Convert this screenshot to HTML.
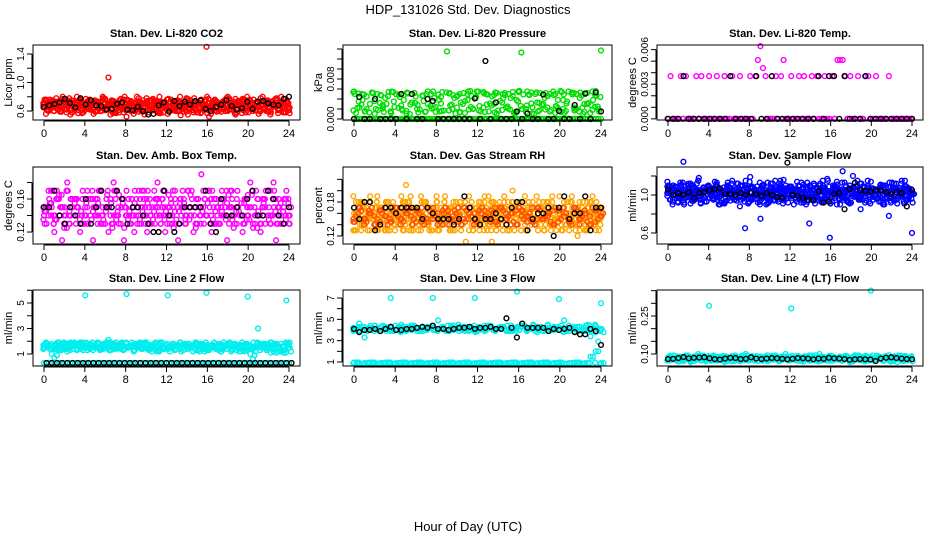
<!DOCTYPE html>
<html><head><meta charset="utf-8"><style>
body{margin:0;background:#fff;}
svg{display:block;font-family:"Liberation Sans",Arial,sans-serif;}
</style></head><body>
<svg id="chart" width="936" height="540" viewBox="0 0 936 540">
<text x="468" y="14" text-anchor="middle" font-size="13">HDP_131026  Std. Dev. Diagnostics</text>
<text x="468" y="531" text-anchor="middle" font-size="13">Hour of Day (UTC)</text>
</svg>
<script>
const co2Color=[0.72,0.62,0.68,0.75,0.60,0.70,0.66,0.77,0.63,0.69,0.73,0.58,0.71,0.65,0.76,0.61,0.68,0.74,0.64,0.70,0.59,0.72,0.67,0.78,
0.62,1.07,0.69,0.74,0.57,0.71,0.65,0.76,0.52,0.68,0.73,0.60,0.80,0.63,0.70,0.55,0.74,0.66,0.61,0.72,0.58,0.69,0.64,0.71,
0.56,0.67,0.73,0.60,0.70,0.54,0.68,0.75,0.62,0.69,0.58,0.72,0.65,0.76,0.61,1.50,0.52,0.67,0.73,0.59,0.70,0.64,0.75,0.61,
0.68,0.72,0.57,0.70,0.66,0.77,0.63,0.69,0.74,0.60,0.71,0.65,0.78,0.62,0.70,0.73,0.58,0.69,0.75,0.64,0.80,0.67,0.72,0.61];
const co2Black=[0.66,0.68,0.70,0.72,0.77,0.71,0.65,0.78,0.69,0.75,0.68,0.67,0.62,0.63,0.70,0.72,0.62,0.61,0.66,0.60,0.55,0.56,0.68,0.72,0.59,0.74,0.67,0.73,0.69,0.74,0.75,0.63,0.60,0.66,0.69,0.75,0.67,0.62,0.64,0.73,0.63,0.73,0.74,0.71,0.69,0.68,0.77,0.80];
const presColor=[5.5,0,2.3,5.0,1.5,0,3.0,5.2,0,1.8,4.8,2.5,0,5.4,1.2,3.5,0,4.9,2.0,0,5.3,1.0,0,3.2,
2.8,0,4.6,1.5,0,5.0,2.2,0,3.8,1.6,0,13.5,5.2,2.0,0,4.7,1.4,3.0,0,5.5,2.4,0,4.4,1.7,
0,5.1,2.9,0,4.5,1.3,0,3.6,5.0,0,2.1,4.2,0,1.5,5.4,13.3,0,2.7,4.8,1.1,0,3.3,5.2,0,
1.9,4.6,0,5.5,2.6,0,1.4,4.9,3.1,0,5.3,1.7,0,4.2,2.3,5.0,0,1.2,3.8,5.6,2.0,13.7];
const presZero=[0,0,0,0,0,0,0,0,0,0,0,0,0,0,0,0,0,0,0,0,0,0,0,0,0,0,0,0,0,0,0,0,0,0,0,0,0,0,0,0,0,0,0,0,0,0,0,0,0,0,0,0,0,0,0,0,0,0,0,0,0,0,0,0,0,0,0,0,0,0,0,0,0,0,0,0,0,0,0,0,0,0,0,0,0,0,0,0,0,0,0,0,0,0,0,0];
const presBlack=[0,4.4,0,0,4.0,0,0,0,0,5.0,0,5.0,0,0,4.0,3.6,0,0,0,0,0,0,0,4.1,0,11.6,0,3.3,0,0,0,1.5,0,1.1,0,0,4.9,0,0,1.6,0,0,2.8,0,5.1,0,5.3,1.5];
const tempColor=[0,3.7,0,0,0,3.7,0,3.7,0,0,0,3.7,0,3.7,0,0,3.7,0,0,3.7,0,0,3.7,0,
0,3.7,0,0,3.7,0,0,0,3.7,0,3.7,5.1,6.3,4.4,3.7,0,0,0,3.7,0,3.7,5.1,0,0,
3.7,0,0,3.7,0,3.7,0,0,3.7,0,3.7,0,0,3.7,0,0,3.7,0,5.1,5.1,5.1,3.7,0,3.7,
0,0,3.7,0,0,3.7,3.7,0,0,3.7,0,0,0,0,3.7,0,0,0,0,0,0,0,0,0];
const tempBlack=[0,0,0,3.7,0,0,0,0,0,0,0,0,3.7,0,0,0,0,3.7,0,0,3.7,0,0,0,0,0,0,0,0,3.7,0,3.7,3.7,0,3.7,0,0,0,3.7,0,0,0,0,0,0,0,0,0];
const boxColor=[0.14,0.13,0.16,0.15,0.12,0.17,0.14,0.11,0.15,0.18,0.13,0.16,0.14,0.15,0.12,0.17,0.14,0.13,0.16,0.11,0.15,0.14,0.17,0.13,
0.15,0.12,0.16,0.18,0.14,0.13,0.15,0.11,0.17,0.14,0.16,0.12,0.15,0.13,0.17,0.14,0.12,0.16,0.15,0.13,0.18,0.14,0.16,0.12,
0.15,0.14,0.17,0.13,0.11,0.16,0.15,0.13,0.17,0.14,0.12,0.16,0.15,0.19,0.13,0.14,0.17,0.12,0.16,0.15,0.13,0.17,0.14,0.11,
0.15,0.16,0.13,0.17,0.14,0.12,0.16,0.15,0.18,0.13,0.14,0.16,0.12,0.15,0.17,0.14,0.13,0.18,0.11,0.16,0.14,0.15,0.17,0.13];
const boxColor2=[0.145,0.155,0.135,0.165,0.125,0.150,0.140,0.160,0.130,0.145,0.155,0.135,0.150,0.140,0.165,0.125,0.145,0.155,0.135,0.150,0.140,0.160,0.130,0.145,
0.155,0.135,0.150,0.140,0.160,0.130,0.145,0.155,0.135,0.150,0.140,0.165,0.125,0.145,0.155,0.135,0.150,0.140,0.160,0.130,0.145,0.155,0.135,0.150];
const boxBlack=[0.15,0.15,0.17,0.14,0.13,0.15,0.14,0.13,0.16,0.13,0.15,0.17,0.15,0.15,0.17,0.16,0.13,0.15,0.15,0.14,0.13,0.12,0.12,0.17,0.14,0.12,0.13,0.15,0.15,0.15,0.15,0.17,0.13,0.12,0.16,0.14,0.14,0.15,0.14,0.16,0.17,0.14,0.14,0.17,0.16,0.14,0.13,0.15];
const rhColor=[0.16,0.15,0.17,0.14,0.18,0.15,0.13,0.17,0.16,0.19,0.14,0.15,0.17,0.13,0.16,0.18,0.15,0.14,0.17,0.16,0.21,0.15,0.13,0.17,
0.16,0.14,0.18,0.15,0.17,0.13,0.16,0.15,0.18,0.14,0.16,0.19,0.15,0.17,0.13,0.16,0.14,0.18,0.15,0.11,0.16,0.17,0.14,0.15,
0.18,0.16,0.13,0.17,0.15,0.11,0.16,0.14,0.18,0.15,0.17,0.13,0.16,0.20,0.15,0.14,0.17,0.16,0.13,0.18,0.15,0.16,0.14,0.17,
0.15,0.13,0.18,0.16,0.14,0.17,0.15,0.19,0.13,0.16,0.18,0.14,0.17,0.15,0.12,0.16,0.18,0.14,0.17,0.15,0.16,0.13,0.17,0.16];
const rhColor2=[0.155,0.165,0.145,0.170,0.150,0.160,0.140,0.165,0.155,0.145,0.170,0.150,0.160,0.140,0.165,0.155,0.145,0.170,0.150,0.160,0.140,0.165,0.155,0.145,
0.170,0.150,0.160,0.140,0.165,0.155,0.145,0.170,0.150,0.160,0.140,0.165,0.155,0.145,0.170,0.150,0.160,0.140,0.165,0.155,0.145,0.170,0.150,0.160];
const rhBlack=[0.17,0.15,0.18,0.18,0.13,0.14,0.17,0.17,0.16,0.17,0.17,0.17,0.17,0.15,0.17,0.16,0.15,0.15,0.15,0.14,0.15,0.19,0.17,0.15,0.14,0.15,0.15,0.16,0.15,0.14,0.17,0.18,0.18,0.13,0.15,0.16,0.16,0.17,0.12,0.17,0.19,0.15,0.16,0.16,0.19,0.13,0.17,0.17];
const flowColor=[1.05,0.95,1.10,1.00,0.92,1.08,1.35,0.97,1.12,1.02,0.94,1.06,1.18,0.99,1.04,0.93,1.09,1.01,0.96,1.13,0.98,1.05,0.91,1.07,
1.00,1.15,0.95,1.03,0.88,1.10,0.65,1.06,1.19,0.97,1.04,0.92,0.75,1.08,1.01,0.95,1.12,0.99,1.05,0.93,1.07,1.16,0.96,1.02,
1.09,0.90,1.04,0.98,1.13,0.94,1.06,0.70,1.01,1.10,0.96,1.03,0.92,1.08,1.17,0.55,1.05,0.97,1.11,0.90,1.25,1.02,0.94,1.07,
1.20,0.99,1.04,0.85,1.09,0.97,1.03,1.14,0.95,1.06,1.00,0.93,1.10,1.02,0.78,0.98,1.12,0.95,1.05,1.15,0.91,1.07,0.99,0.60];
const flowColor2=[1.02,1.08,0.98,1.04,1.10,0.96,1.03,1.07,0.99,1.05,1.01,1.09,0.97,1.04,1.06,1.00,1.08,0.98,1.03,1.05,0.99,1.07,1.01,1.04,
1.06,0.98,1.02,1.08,1.00,1.05,0.97,1.03,1.09,1.01,1.04,0.99,1.06,1.02,1.08,0.98,1.04,1.10,1.00,1.05,0.97,1.03,1.07,1.01];
const flowBlack=[1.06,1.00,1.02,1.00,1.03,0.97,1.02,1.03,1.05,1.06,1.07,1.01,1.01,1.00,1.02,1.00,1.02,1.01,0.99,1.02,1.00,0.98,0.97,1.34,1.00,0.99,0.97,0.95,0.95,1.04,0.92,0.93,1.01,1.02,0.85,1.06,1.13,1.05,1.04,1.04,1.05,1.05,1.03,1.01,1.03,1.02,0.88,1.05];
const l2Color=[1.5,1.8,1.7,1.0,0.7,0.9,1.7,1.8,1.6,1.2,1.3,1.8,1.7,1.4,1.9,1.6,5.6,1.5,1.8,1.3,1.7,1.9,1.4,1.8,
1.6,2.1,1.3,1.7,1.9,1.5,1.8,1.4,5.7,1.6,1.9,1.3,1.7,1.8,1.5,1.9,1.4,1.7,1.6,1.8,1.3,1.9,1.5,1.7,
5.6,1.6,1.8,1.4,1.7,1.9,1.3,1.6,1.8,1.5,1.7,1.9,1.4,1.8,1.6,5.8,1.3,1.7,1.9,1.5,1.8,1.4,1.6,1.7,
1.9,1.3,1.8,1.5,1.7,1.4,1.6,5.5,1.0,0.6,1.2,3.0,1.7,1.8,1.6,1.7,1.1,1.2,1.1,1.2,1.3,1.1,5.2,0.3];
const l2Color2=[1.6,1.4,1.7,1.5,1.8,1.6,1.4,1.7,1.5,1.6,1.8,1.4,1.6,1.7,1.5,1.4,1.6,1.8,1.5,1.7,1.4,1.6,1.5,1.7,
1.6,1.4,1.7,1.5,1.6,1.8,1.4,1.6,1.7,1.5,1.4,1.6,1.8,1.5,1.7,1.6,0.9,1.6,1.7,1.5,1.4,1.2,1.1,1.2];
const l2Black=[0.3,0.3,0.3,0.3,0.3,0.3,0.3,0.3,0.3,0.3,0.3,0.3,0.3,0.3,0.3,0.3,0.3,0.3,0.3,0.3,0.3,0.3,0.3,0.3,0.3,0.3,0.3,0.3,0.3,0.3,0.3,0.3,0.3,0.3,0.3,0.3,0.3,0.3,0.3,0.3,0.3,0.3,0.3,0.3,0.3,0.3,0.3,0.3];
const l3High=[4.0,4.6,3.3,4.2,4.4,3.9,4.3,7.0,4.1,4.5,4.0,4.2,3.9,4.3,4.1,7.0,4.9,4.2,4.0,4.4,3.9,4.3,4.1,7.0,4.2,4.0,4.4,4.1,4.3,3.9,4.2,7.6,4.3,4.0,4.4,4.1,3.9,4.2,4.0,6.9,4.9,3.9,4.1,4.3,3.9,3.4,3.8,6.5];
const l3High2=[4.1,4.3,3.9,4.2,4.0,4.4,4.1,3.9,4.3,4.0,4.2,4.4,3.9,4.1,4.3,4.0,4.2,3.9,4.4,4.1,4.0,4.3,4.2,3.9,4.1,4.4,4.0,4.2,4.3,3.9,4.1,4.0,4.4,4.2,3.9,4.3,4.1,4.0,4.2,4.4,3.9,4.1,4.3,4.0,4.5,4.2,2.9,3.8];
const l3Low=[0.95,0.85,0.90,0.95,0.85,0.90,0.95,0.85,0.90,0.95,0.85,0.90,0.95,0.85,0.90,0.95,0.85,0.90,0.95,0.85,0.90,0.95,0.85,0.90,0.95,0.85,0.90,0.95,0.85,0.90,0.95,0.85,0.90,0.95,0.85,0.90,0.95,0.85,0.90,0.95,0.85,0.90,0.95,0.85,0.90,1.5,2.0,0.9];
const l3Black=[4.1,3.8,4.0,4.0,4.1,3.9,4.1,4.3,4.0,4.0,4.1,4.1,4.2,4.3,4.2,4.4,4.1,4.1,4.0,4.1,4.2,4.2,4.3,4.1,4.2,4.2,4.3,4.1,4.1,5.1,4.2,3.3,4.6,4.2,4.2,4.2,4.2,3.9,4.1,4.0,4.1,4.2,3.8,3.6,3.6,4.1,3.9,2.6];
const l4Color=[0.085,0.075,0.092,0.080,0.070,0.088,0.078,0.094,0.082,0.072,0.090,0.079,0.086,0.074,0.093,0.081,0.29,0.077,0.089,0.073,0.084,0.091,0.068,0.087,
0.079,0.092,0.075,0.083,0.071,0.089,0.080,0.094,0.076,0.086,0.082,0.073,0.090,0.078,0.085,0.072,0.088,0.081,0.093,0.075,0.084,0.079,0.091,0.074,
0.28,0.083,0.077,0.090,0.072,0.086,0.080,0.094,0.076,0.088,0.082,0.100,0.074,0.087,0.079,0.091,0.073,0.085,0.081,0.089,0.076,0.092,0.078,0.084,
0.071,0.090,0.080,0.086,0.074,0.093,0.079,0.35,0.083,0.076,0.091,0.087,0.073,0.085,0.095,0.080,0.077,0.089,0.082,0.074,0.088,0.081,0.086,0.079];
const l4Black=[0.080,0.081,0.084,0.088,0.083,0.085,0.086,0.087,0.083,0.080,0.078,0.082,0.085,0.084,0.080,0.081,0.087,0.082,0.080,0.082,0.084,0.083,0.081,0.079,0.081,0.084,0.083,0.082,0.079,0.082,0.081,0.085,0.083,0.082,0.080,0.077,0.079,0.080,0.079,0.078,0.072,0.082,0.085,0.087,0.084,0.082,0.080,0.079];

const NS='http://www.w3.org/2000/svg';
const svg=document.getElementById('chart');
function mk(tag,attrs,parent){const e=document.createElementNS(NS,tag);for(const k in attrs)e.setAttribute(k,attrs[k]);(parent||svg).appendChild(e);return e;}

function panel(cfg){
  const g=mk('g',{});
  
  
  const L=cfg.box[0],R=cfg.box[1],T=cfg.box[2],B=cfg.box[3];
  const x0=L+11,x1=R-11;
  const xs=h=>x0+(x1-x0)*h/24;
  const ys=v=>B-(v-cfg.ymin)/(cfg.ymax-cfg.ymin)*(B-T);
  const t=mk('text',{x:(L+R)/2,y:T-8,'text-anchor':'middle','font-size':11,'font-weight':'bold'},g);
  t.textContent=cfg.title;
  
  
  function plot(data,color,label,off,clip){
    const n=data.length;
    data.forEach((v,i)=>{
      if(clip&&(v<clip[0]||v>clip[1]))return;
      const c=mk('circle',{cx:xs(i*24/(n-1)+(off||0)),cy:ys(v),r:2.4,fill:'none',stroke:color,'stroke-width':1.4},g);
      
      
    });
  }
  cfg.series.forEach(s=>{
    plot(s.data,s.color,s.label,s.off,null);
    (s.copies||[]).forEach((k,j)=>{
      const rot=s.data.slice(k).concat(s.data.slice(0,k));
      plot(rot,s.color,s.label,(j%2?0.06:-0.06),s.clip);
    });
  });
  const box=mk('rect',{x:L,y:T,width:R-L,height:B-T,fill:'none',stroke:'#000','stroke-width':1},g);
  
  
  const xa=mk('g',{},g);
  
  
  mk('line',{x1:xs(0),x2:xs(24),y1:B+1,y2:B+1,stroke:'#000'},xa);
  [0,4,8,12,16,20,24].forEach(h=>{
    mk('line',{x1:xs(h),x2:xs(h),y1:B+1,y2:B+6,stroke:'#000'},xa);
    const tl=mk('text',{x:xs(h),y:B+17,'text-anchor':'middle','font-size':11},xa);
    tl.textContent=h;
  });
  const ya=mk('g',{},g);
  
  
  mk('line',{x1:L-1,x2:L-1,y1:ys(cfg.yticks[0]),y2:ys(cfg.yticks[cfg.yticks.length-1]),stroke:'#000'},ya);
  cfg.yticks.forEach(v=>mk('line',{x1:L-6,x2:L-1,y1:ys(v),y2:ys(v),stroke:'#000'},ya));
  cfg.ylabels.forEach((v,i)=>{
    const y=ys(v),xx=L-9;
    const tl=mk('text',{x:xx,y:y,'text-anchor':'middle','font-size':10,transform:`rotate(-90 ${xx} ${y})`},ya);
    tl.textContent=cfg.ylabelText[i];
  });
  const yt=mk('text',{x:L-21,y:(T+B)/2,'text-anchor':'middle','font-size':11,transform:`rotate(-90 ${L-21} ${(T+B)/2})`},g);
  yt.textContent=cfg.yTitle;
  
  
}
const C1=[33,300],C2=[343,612],C3=[657,923];
const R1=[45,120],R2=[167,244],R3=[290,366];
function bx(c,r){return [c[0],c[1],r[0],r[1]];}
const CP=[13,29,47,61,79];

panel({name:'panel-co2',title:'Stan. Dev. Li-820 CO2',yTitle:'Licor ppm',box:bx(C1,R1),ymin:0.474,ymax:1.526,
  yticks:[0.6,0.8,1.0,1.2,1.4],ylabels:[0.6,1.0,1.4],ylabelText:['0.6','1.0','1.4'],
  series:[{data:co2Color,color:'#ff0000',label:'co2-point',copies:CP,clip:[0.55,0.8]},{data:co2Black,color:'#000',label:'co2-highlight-point'}]});
panel({name:'panel-pressure',title:'Stan. Dev. Li-820 Pressure',yTitle:'kPa',box:bx(C2,R1),ymin:-0.2,ymax:14.8,
  yticks:[0,2,4,6,8,10,12,14],ylabels:[0,8],ylabelText:['0.000','0.008'],
  series:[{data:presZero,color:'#00dd00',label:'pressure-point'},{data:presColor,color:'#00dd00',label:'pressure-point',copies:[13,29,47],clip:[0.5,6]},{data:presBlack,color:'#000',label:'pressure-highlight-point'}]});
panel({name:'panel-temp',title:'Stan. Dev. Li-820 Temp.',yTitle:'degrees C',box:bx(C3,R1),ymin:-0.1,ymax:6.4,
  yticks:[0,1,2,3,4,5,6],ylabels:[0,3,6],ylabelText:['0.000','0.003','0.006'],
  series:[{data:tempColor,color:'#ff00ff',label:'temp-point',copies:[0],clip:[-1,0.5]},{data:tempBlack,color:'#000',label:'temp-highlight-point'}]});
panel({name:'panel-box-temp',title:'Stan. Dev. Amb. Box Temp.',yTitle:'degrees C',box:bx(C1,R2),ymin:0.1055,ymax:0.1988,
  yticks:[0.12,0.14,0.16,0.18],ylabels:[0.12,0.16],ylabelText:['0.12','0.16'],
  series:[{data:boxColor,color:'#ff00ff',label:'box-temp-point',copies:[13,29,47],clip:[0.125,0.175]},{data:boxColor2,color:'#ff00ff',label:'box-temp-point',off:0.2,copies:[11,23],clip:[0,1]},{data:boxBlack,color:'#000',label:'box-temp-highlight-point'}]});
panel({name:'panel-rh',title:'Stan. Dev. Gas Stream RH',yTitle:'percent',box:bx(C2,R2),ymin:0.1059,ymax:0.2418,
  yticks:[0.12,0.14,0.16,0.18,0.20,0.22],ylabels:[0.12,0.18],ylabelText:['0.12','0.18'],
  series:[{data:rhColor,color:'#ffa500',label:'rh-point',copies:CP,clip:[0.125,0.19]},{data:rhColor2,color:'#ff5000',label:'rh-point',off:0.2,copies:[11,23,37],clip:[0,1]},{data:rhBlack,color:'#000',label:'rh-highlight-point'}]});
panel({name:'panel-sample-flow',title:'Stan. Dev. Sample Flow',yTitle:'ml/min',box:bx(C3,R2),ymin:0.484,ymax:1.2947,
  yticks:[0.6,0.8,1.0,1.2],ylabels:[0.6,1.0],ylabelText:['0.6','1.0'],
  series:[{data:flowColor,color:'#0000ff',label:'flow-point',copies:CP,clip:[0.9,1.15]},{data:flowColor2,color:'#0000ff',label:'flow-point',off:0.2,copies:[11,23,37],clip:[0,2]},{data:flowBlack,color:'#000',label:'flow-highlight-point'}]});
panel({name:'panel-line2',title:'Stan. Dev. Line 2 Flow',yTitle:'ml/min',box:bx(C1,R3),ymin:0.059,ymax:6.02,
  yticks:[1,2,3,4,5,6],ylabels:[1,3,5],ylabelText:['1','3','5'],
  series:[{data:l2Color,color:'#00eeee',label:'line2-point',copies:[13,29,47],clip:[1.2,2.0]},{data:l2Color2,color:'#00eeee',label:'line2-point',off:0.2,copies:[11,23],clip:[1.2,2.0]},{data:l2Black,color:'#00eeee',label:'line2-point'},{data:l2Black,color:'#000',label:'line2-highlight-point',off:0.25}]});
panel({name:'panel-line3',title:'Stan. Dev. Line 3 Flow',yTitle:'ml/min',box:bx(C2,R3),ymin:0.625,ymax:7.75,
  yticks:[1,2,3,4,5,6,7],ylabels:[1,3,5,7],ylabelText:['1','3','5','7'],
  series:[{data:l3High,color:'#00eeee',label:'line3-point',copies:[11,23,37],clip:[3.7,4.5]},{data:l3High2,color:'#00eeee',label:'line3-point',off:0.25,copies:[7],clip:[3.7,4.5]},{data:l3Low,color:'#00eeee',label:'line3-point',copies:[5],clip:[0.8,1.0]},{data:l3Low,color:'#00eeee',label:'line3-point',off:0.25},{data:l3Black,color:'#000',label:'line3-highlight-point'}]});
panel({name:'panel-line4',title:'Stan. Dev. Line 4 (LT) Flow',yTitle:'ml/min',box:bx(C3,R3),ymin:0.0526,ymax:0.3526,
  yticks:[0.10,0.15,0.20,0.25,0.30,0.35],ylabels:[0.10,0.25],ylabelText:['0.10','0.25'],
  series:[{data:l4Color,color:'#00eeee',label:'line4-point',copies:[13,29,47],clip:[0,0.1]},{data:l4Black,color:'#000',label:'line4-highlight-point'}]});
</script>
</body></html>
